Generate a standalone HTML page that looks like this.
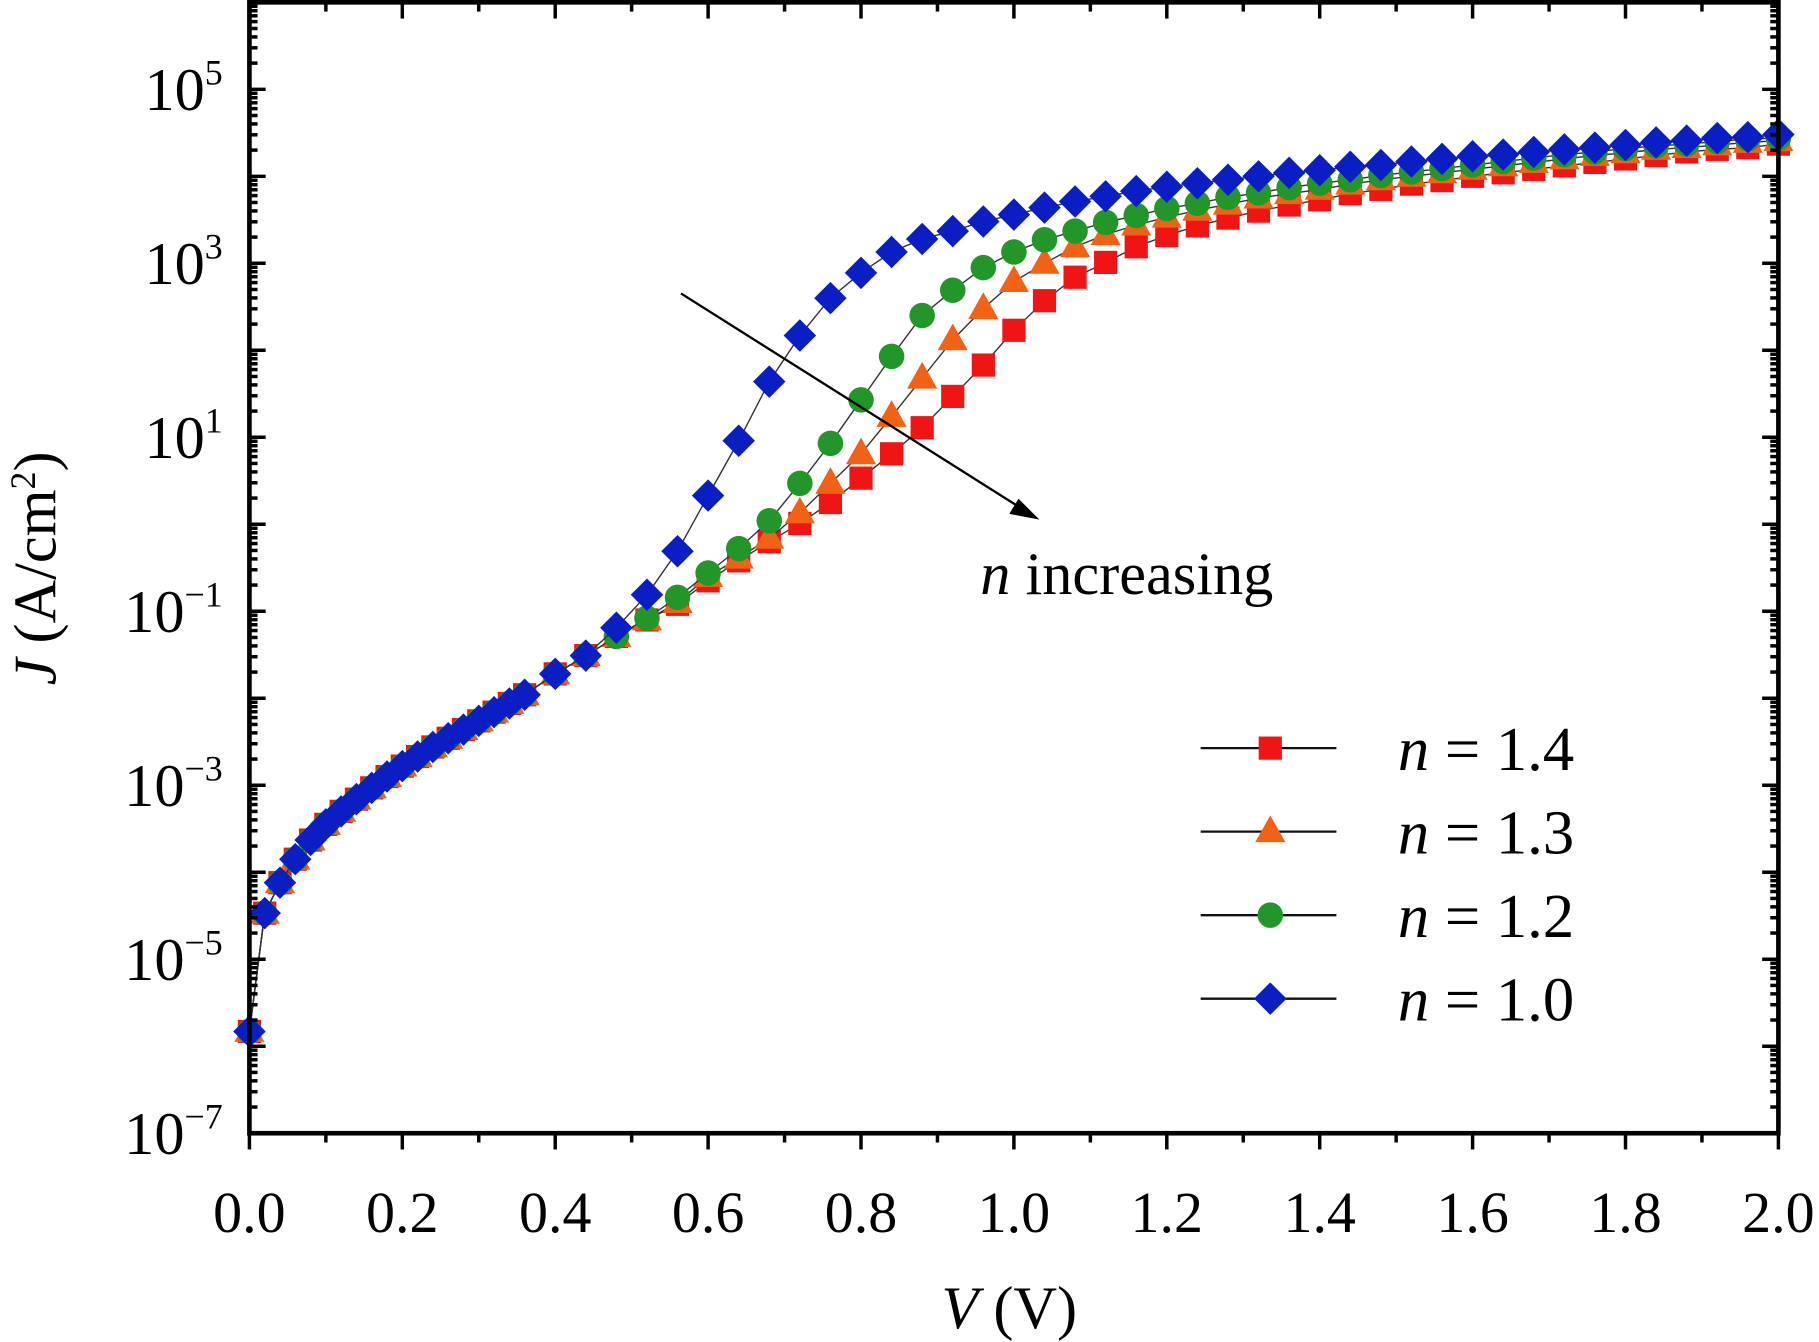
<!DOCTYPE html>
<html><head><meta charset="utf-8"><style>
html,body{margin:0;padding:0;background:#fff;}
svg{display:block;}
text{font-family:"Liberation Serif",serif;fill:#000;}
</style></head><body>
<svg id="chart" width="1819" height="1342" viewBox="0 0 1568 1157" preserveAspectRatio="none" xmlns="http://www.w3.org/2000/svg">
<g id="marks"></g>
<g id="axes"></g>
<g id="legend"></g>
</svg>
<script>
const lowV = [0,0.02,0.04,0.06,0.08,0.10,0.12,0.14,0.16,0.18,0.20,0.22,0.24,0.26,0.28,0.30,0.32,0.34,0.36,0.40,0.44];
const lowLogJ = [-5.83,-4.47,-4.12,-3.85,-3.63,-3.45,-3.3,-3.16,-3.03,-2.9,-2.78,-2.67,-2.56,-2.46,-2.36,-2.26,-2.16,-2.06,-1.96,-1.72,-1.51];
const highV = [0.48,0.52,0.56,0.60,0.64,0.68,0.72,0.76,0.80,0.84,0.88,0.92,0.96,1.00,1.04,1.08,1.12,1.16,1.20,1.24,1.28,1.32,1.36,1.40,1.44,1.48,1.52,1.56,1.60,1.64,1.68,1.72,1.76,1.80,1.84,1.88,1.92,1.96,2.00];
const logJ14 = [-1.29,-1.1,-0.92,-0.65,-0.42,-0.2,0.01,0.25,0.53,0.81,1.11,1.47,1.83,2.23,2.57,2.84,3.01,3.19,3.32,3.43,3.52,3.6,3.67,3.73,3.8,3.85,3.91,3.95,4.0,4.04,4.08,4.12,4.16,4.2,4.24,4.28,4.31,4.33,4.37];
const logJ13 = [-1.29,-1.1,-0.9,-0.6,-0.39,-0.16,0.13,0.47,0.81,1.24,1.68,2.12,2.48,2.79,3.0,3.19,3.33,3.44,3.53,3.61,3.68,3.75,3.8,3.85,3.91,3.96,4.0,4.04,4.08,4.12,4.16,4.2,4.24,4.27,4.31,4.33,4.36,4.39,4.41];
const logJ12 = [-1.29,-1.08,-0.84,-0.56,-0.28,0.04,0.47,0.93,1.43,1.93,2.4,2.69,2.95,3.13,3.27,3.37,3.47,3.55,3.63,3.69,3.76,3.81,3.87,3.92,3.96,4.01,4.05,4.09,4.13,4.17,4.21,4.25,4.28,4.32,4.35,4.37,4.4,4.43,4.44];
const logJ10 = [-1.19,-0.81,-0.31,0.33,0.96,1.64,2.17,2.6,2.89,3.13,3.28,3.37,3.48,3.56,3.64,3.71,3.77,3.83,3.88,3.92,3.96,4.0,4.04,4.07,4.11,4.13,4.17,4.2,4.23,4.25,4.28,4.31,4.33,4.36,4.39,4.41,4.44,4.45,4.48];
const xTickLabels = ["0.0","0.2","0.4","0.6","0.8","1.0","1.2","1.4","1.6","1.8","2.0"];
const yTickExps = [-7,-5,-3,-1,1,3,5];
const legendLabels = ["1.4","1.3","1.2","1.0"];

const NS="http://www.w3.org/2000/svg";
const L=215,R=1533,T=2,B=977;
const xMin=0,xMax=2,yMin=-7,yMax=6;
function X(v){return L+(v-xMin)/(xMax-xMin)*(R-L);}
function Y(lg){return B-(lg-yMin)/(yMax-yMin)*(B-T);}
function mk(tag,attrs,parent){const e=document.createElementNS(NS,tag);for(const k in attrs)e.setAttribute(k,attrs[k]);parent.appendChild(e);return e;}
const marks=document.getElementById('marks'),axes=document.getElementById('axes'),legend=document.getElementById('legend');

function marker(shape,cx,cy,color,parent){
  let e;
  if(shape==='square'){e=mk('rect',{x:cx-10,y:cy-10,width:20,height:20,fill:color},parent);}
  else if(shape==='tri'){e=mk('polygon',{points:`${cx},${cy-14} ${cx+13},${cy+9} ${cx-13},${cy+9}`,fill:color},parent);}
  else if(shape==='circle'){e=mk('circle',{cx:cx,cy:cy,r:11,fill:color},parent);}
  else {e=mk('polygon',{points:`${cx},${cy-14} ${cx+14},${cy} ${cx},${cy+14} ${cx-14},${cy}`,fill:color},parent);}
  return e;
}
const series=[
 {vals:logJ14,shape:'square',color:'#f01414',name:'series-n-1-4'},
 {vals:logJ13,shape:'tri',color:'#f26216',name:'series-n-1-3'},
 {vals:logJ12,shape:'circle',color:'#23962a',name:'series-n-1-2'},
 {vals:logJ10,shape:'diamond',color:'#0a1ec4',name:'series-n-1-0'}
];
series.forEach(s=>{
  const g=mk('g',{},marks);
  
  
  const vs=lowV.concat(highV), ls=lowLogJ.concat(s.vals);
  const pts=vs.map((v,i)=>X(v).toFixed(1)+','+Y(ls[i]).toFixed(1)).join(' ');
  const ln=mk('polyline',{points:pts,fill:'none',stroke:'#333','stroke-width':1.2},g);
  
  
  vs.forEach((v,i)=>{
    const m=marker(s.shape,X(v),Y(ls[i]),s.color,g);
    
    
  });
});

const fr=mk('rect',{x:L,y:T,width:R-L,height:B-T,fill:'none',stroke:'#000','stroke-width':4},axes);


for(let i=0;i<=20;i++){
  const v=i*0.1, x=X(v), major=i%2===0;
  const len=major?14:8;
  mk('line',{x1:x,y1:B,x2:x,y2:B+len,stroke:'#000','stroke-width':3},axes);
  mk('line',{x1:x,y1:T,x2:x,y2:T+len,stroke:'#000','stroke-width':3},axes);
}
xTickLabels.forEach((t,i)=>{
  const e=mk('text',{x:X(i*0.2),y:1062,'font-size':50,'text-anchor':'middle'},axes);
  e.textContent=t;
  
  
});
for(let d=yMin;d<yMax;d++){
  for(let m=1;m<=9;m++){
    const y=Y(d+Math.log10(m)), len=m===1?14:7;
    mk('line',{x1:L,y1:y,x2:L+len,y2:y,stroke:'#000','stroke-width':3},axes);
    mk('line',{x1:R,y1:y,x2:R-len,y2:y,stroke:'#000','stroke-width':3},axes);
  }
}
yTickExps.forEach(ex=>{
  const e=mk('text',{x:192,y:Y(ex)+18,'font-size':52,'text-anchor':'end'},axes);
  
  
  const t1=mk('tspan',{},e);t1.textContent='10';
  const t2=mk('tspan',{dy:-22,'font-size':31},e);t2.textContent=(ex<0?'\u2212':'')+Math.abs(ex);
});
const xt=mk('text',{x:870,y:1145,'font-size':52,'text-anchor':'middle'},axes);


xt.innerHTML='<tspan font-style="italic">V</tspan> (V)';
const yt=mk('text',{x:0,y:0,'font-size':52,'text-anchor':'middle',transform:'translate(48,490) rotate(-90)'},axes);


yt.innerHTML='<tspan font-style="italic">J</tspan> (A/cm<tspan dy="-18" font-size="31">2</tspan><tspan dy="18">)</tspan>';
const ar=mk('g',{},axes);


mk('line',{x1:587,y1:253,x2:880,y2:438,stroke:'#000','stroke-width':2},ar);
mk('polygon',{points:'896,448 870,443 878,430',fill:'#000'},ar);
const an=mk('text',{x:845,y:512,'font-size':52},axes);


an.innerHTML='<tspan font-style="italic">n</tspan> increasing';
legendLabels.forEach((lab,i)=>{
  const y=645+i*72, s=series[i];
  const g=mk('g',{},legend);
  
  
  mk('line',{x1:1035,y1:y,x2:1152,y2:y,stroke:'#111','stroke-width':2},g);
  marker(s.shape,1095,y,s.color,g);
  const t=mk('text',{x:1205,y:y+19,'font-size':54},g);
  t.innerHTML='<tspan font-style="italic">n</tspan> = '+lab;
});
</script>
</body></html>
